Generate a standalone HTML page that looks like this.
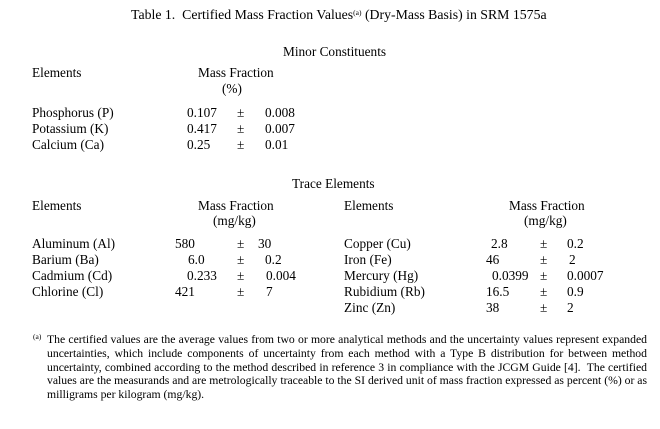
<!DOCTYPE html>
<html><head><meta charset="utf-8"><style>
body{margin:0;width:660px;height:429px;background:#fff;position:relative;overflow:hidden;font-family:"Liberation Serif",serif;font-size:13.3px;color:#000}
.t{position:absolute;white-space:nowrap;line-height:14px}
.fn{position:absolute;left:47px;width:600px;font-size:11.7px;line-height:13.8px;text-align:justify}
.fn div{text-align-last:justify;white-space:nowrap}
.fn div.l{text-align-last:left}
sup{font-size:7.5px;vertical-align:4px;line-height:0}
</style></head><body>
<div class="t" style="left:131px;top:8px;font-size:13.8px">Table 1.&nbsp; Certified Mass Fraction Values<sup>(a)</sup> (Dry-Mass Basis) in SRM 1575a</div>
<div class="t" style="left:283px;top:45px">Minor Constituents</div>
<div class="t" style="left:32px;top:66px">Elements</div>
<div class="t" style="left:198px;top:66px">Mass Fraction</div>
<div class="t" style="left:222px;top:82px">(%)</div>
<div class="t" style="left:32px;top:106px">Phosphorus (P)</div>
<div class="t" style="left:32px;top:122px">Potassium (K)</div>
<div class="t" style="left:32px;top:138px">Calcium (Ca)</div>
<div class="t" style="left:187px;top:106px">0.107</div><div class="t" style="left:237px;top:106px">±</div><div class="t" style="left:265px;top:106px">0.008</div>
<div class="t" style="left:187px;top:122px">0.417</div><div class="t" style="left:237px;top:122px">±</div><div class="t" style="left:265px;top:122px">0.007</div>
<div class="t" style="left:187px;top:138px">0.25</div><div class="t" style="left:237px;top:138px">±</div><div class="t" style="left:265px;top:138px">0.01</div>

<div class="t" style="left:292px;top:177px">Trace Elements</div>
<div class="t" style="left:32px;top:199px">Elements</div>
<div class="t" style="left:198px;top:199px">Mass Fraction</div>
<div class="t" style="left:213px;top:214px">(mg/kg)</div>
<div class="t" style="left:344px;top:199px">Elements</div>
<div class="t" style="left:509px;top:199px">Mass Fraction</div>
<div class="t" style="left:524px;top:214px">(mg/kg)</div>

<div class="t" style="left:32px;top:237px">Aluminum (Al)</div>
<div class="t" style="left:32px;top:253px">Barium (Ba)</div>
<div class="t" style="left:32px;top:269px">Cadmium (Cd)</div>
<div class="t" style="left:32px;top:285px">Chlorine (Cl)</div>
<div class="t" style="left:175px;top:237px">580</div><div class="t" style="left:237px;top:237px">±</div><div class="t" style="left:258px;top:237px">30</div>
<div class="t" style="left:188px;top:253px">6.0</div><div class="t" style="left:237px;top:253px">±</div><div class="t" style="left:265px;top:253px">0.2</div>
<div class="t" style="left:187px;top:269px">0.233</div><div class="t" style="left:237px;top:269px">±</div><div class="t" style="left:266px;top:269px">0.004</div>
<div class="t" style="left:175px;top:285px">421</div><div class="t" style="left:237px;top:285px">±</div><div class="t" style="left:266px;top:285px">7</div>

<div class="t" style="left:344px;top:237px">Copper (Cu)</div>
<div class="t" style="left:344px;top:253px">Iron (Fe)</div>
<div class="t" style="left:344px;top:269px">Mercury (Hg)</div>
<div class="t" style="left:344px;top:285px">Rubidium (Rb)</div>
<div class="t" style="left:344px;top:301px">Zinc (Zn)</div>
<div class="t" style="left:491px;top:237px">2.8</div><div class="t" style="left:540px;top:237px">±</div><div class="t" style="left:567px;top:237px">0.2</div>
<div class="t" style="left:486px;top:253px">46</div><div class="t" style="left:540px;top:253px">±</div><div class="t" style="left:569px;top:253px">2</div>
<div class="t" style="left:492px;top:269px">0.0399</div><div class="t" style="left:540px;top:269px">±</div><div class="t" style="left:567px;top:269px">0.0007</div>
<div class="t" style="left:486px;top:285px">16.5</div><div class="t" style="left:540px;top:285px">±</div><div class="t" style="left:567px;top:285px">0.9</div>
<div class="t" style="left:486px;top:301px">38</div><div class="t" style="left:540px;top:301px">±</div><div class="t" style="left:567px;top:301px">2</div>

<div class="t" style="left:33px;top:330px;font-size:7.5px">(a)</div>
<div class="fn" style="top:333px">
<div>The certified values are the average values from two or more analytical methods and the uncertainty values represent expanded</div>
<div>uncertainties, which include components of uncertainty from each method with a Type B distribution for between method</div>
<div>uncertainty, combined according to the method described in reference 3 in compliance with the JCGM Guide [4].&nbsp; The certified</div>
<div>values are the measurands and are metrologically traceable to the SI derived unit of mass fraction expressed as percent (%) or as</div>
<div class="l">milligrams per kilogram (mg/kg).</div>
</div>
</body></html>
